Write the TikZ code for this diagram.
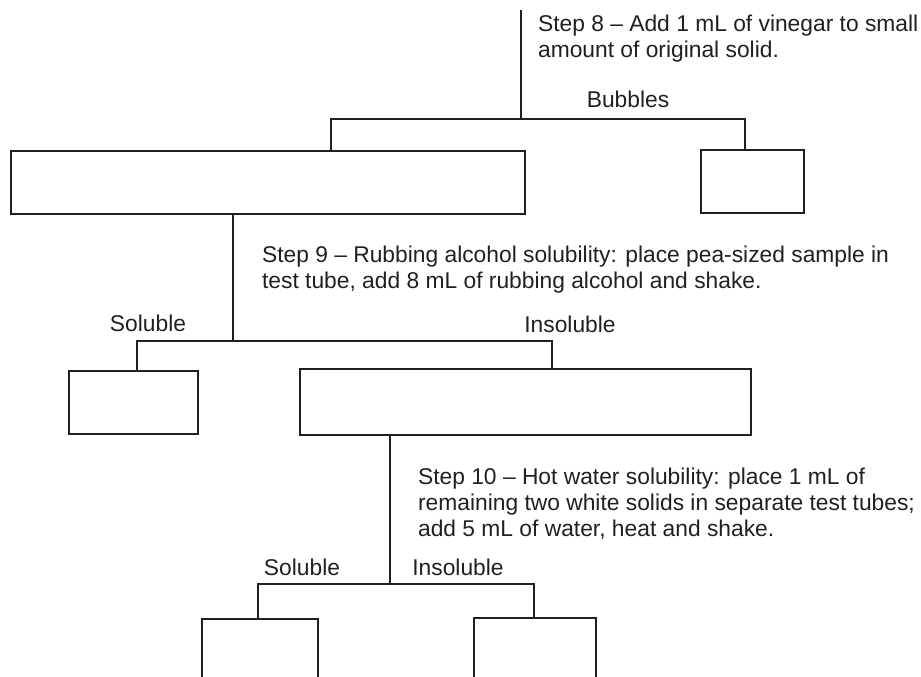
\documentclass[tikz,border=0pt]{standalone}
\usepackage{fontspec}
\setmainfont{Liberation Sans}
\definecolor{ink}{HTML}{231F20}
\begin{document}
\begin{tikzpicture}[x=1pt,y=-1pt,
  line width=2.2pt, draw=ink,
  box/.style={draw=ink, line width=2.2pt, rectangle, inner sep=0pt},
  steptext/.style={font=\fontsize{22.8}{26}\selectfont, text=ink, align=left, anchor=base west, inner sep=0pt},
  lab/.style={font=\fontsize{22.8}{26}\selectfont, text=ink, anchor=base, inner sep=0pt}]
\useasboundingbox (0,0) rectangle (921,677);
\begin{scope}
\clip (0,0) rectangle (921,677);
% boxes (coordinates: x right, y down)
\node[box, minimum width=514pt, minimum height=63pt, anchor=north west] (b1) at (10,150) {};
\node[box, minimum width=103pt, minimum height=63pt, anchor=north west] (b2) at (700,148.5) {};
\node[box, minimum width=129pt, minimum height=63pt, anchor=north west] (b3) at (68,370) {};
\node[box, minimum width=451pt, minimum height=66pt, anchor=north west] (b4) at (299,368) {};
\node[box, minimum width=116pt, minimum height=100pt, anchor=north west] (b5) at (201,617.5) {};
\node[box, minimum width=122pt, minimum height=100pt, anchor=north west] (b6) at (473,616.5) {};
% texts (anchor = baseline of last line)
\node[steptext] (t8) at (537,58) {Step 8 -- Add 1 mL of vinegar to small\\amount of original solid.};
\node[steptext] (t9) at (261,288) {Step 9 -- Rubbing alcohol solubility: place pea-sized sample in\\test tube, add 8 mL of rubbing alcohol and shake.};
\node[steptext] (t10) at (417,536) {Step 10 -- Hot water solubility: place 1 mL of\\remaining two white solids in separate test tubes;\\add 5 mL of water, heat and shake.};
\node[lab] (lbub) at (628,107) {Bubbles};
\node[lab] (lsol1) at (148,331) {Soluble};
\node[lab] (lins1) at (570,332) {Insoluble};
\node[lab] (lsol2) at (302,575) {Soluble};
\node[lab] (lins2) at (458,575) {Insoluble};
% connectors
\coordinate (top) at (521,10);
\coordinate (j8) at (521,119);
\coordinate (d1) at (331,0);
\coordinate (d2) at (745,0);
\draw (top) -- (j8);
\draw (b1.north -| d1) |- (j8) -| (b2.north -| d2);
\coordinate (s9) at (233,0);
\coordinate (j9) at (233,341);
\coordinate (d3) at (137,0);
\coordinate (d4) at (552,0);
\draw (b1.south -| s9) -- (j9);
\draw (b3.north -| d3) |- (j9) -| (b4.north -| d4);
\coordinate (s10) at (390,0);
\coordinate (j10) at (390,584);
\coordinate (d5) at (258,0);
\coordinate (d6) at (534,0);
\draw (b4.south -| s10) -- (j10);
\draw (b5.north -| d5) |- (j10) -| (b6.north -| d6);
\end{scope}
\end{tikzpicture}
\end{document}
